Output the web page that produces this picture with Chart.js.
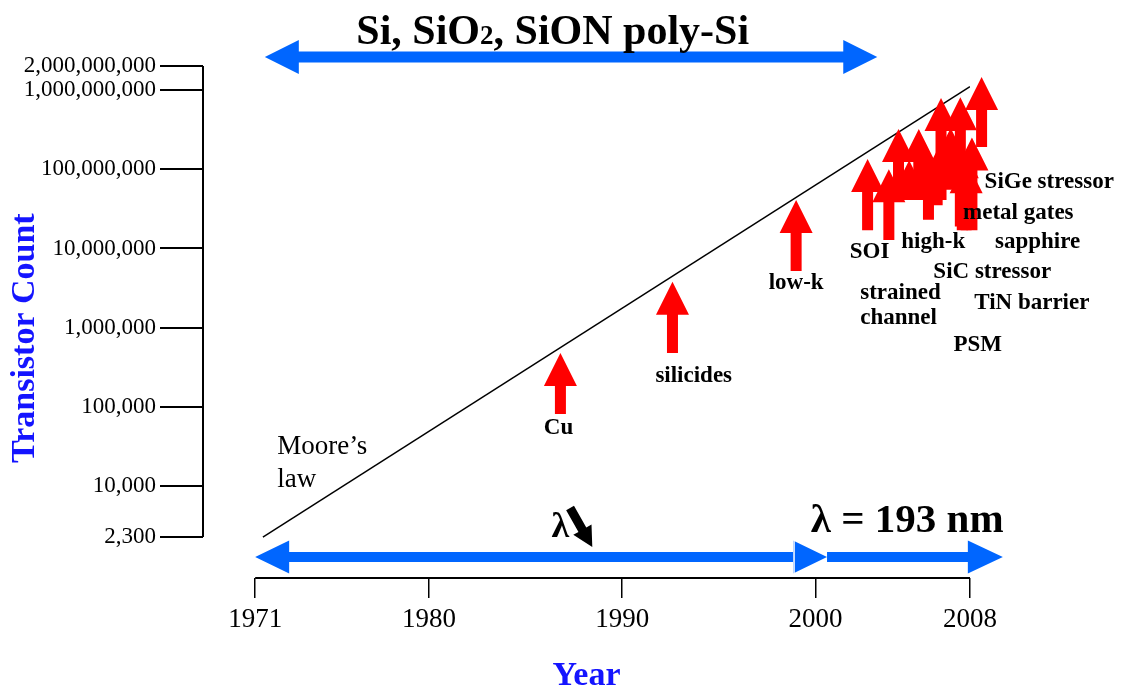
<!DOCTYPE html>
<html>
<head>
<meta charset="utf-8">
<script src="https://cdn.jsdelivr.net/npm/chart.js@4.4.1/dist/chart.umd.min.js"></script>
<style>
  html, body { margin: 0; padding: 0; background: #fff; }
  #wrap { width: 1122px; height: 691px; }
</style>
</head>
<body>
<div id="wrap"><canvas id="chart"></canvas></div>
<script>
// axis ticks
const countTicks = [2300, 10000, 100000, 1000000, 10000000, 100000000, 1000000000, 2000000000];
const yearTicks = [1971, 1980, 1990, 2000, 2008];

// Moore's law line
const mooreYears = [1971.4, 2008];
const mooreCounts = [2300, 1.1e9];

// red arrows (year, tip count, base count)
const arrowYears = [1986.8, 1992.6, 1999.0, 2002.7, 2003.8, 2004.3, 2004.85, 2005.35, 2005.85, 2006.3, 2006.5, 2007.0, 2007.5, 2007.6, 2007.8, 2008.1, 2008.6];
const arrowTips  = [4.8e5, 3.8e6, 4.1e7, 1.34e8, 1.0e8, 3.2e8, 1.3e8, 3.2e8, 1.6e8, 1.75e8, 7.9e8, 3.3e8, 8.1e8, 2.0e8, 1.3e8, 2.5e8, 1.45e9];
const arrowBases = [8.2e4, 4.8e5, 5.2e6, 1.7e7, 1.28e7, 4.1e7, 4.1e7, 4.1e7, 2.3e7, 3.5e7, 4.1e7, 5.5e7, 1.9e7, 1.7e7, 1.7e7, 1.7e7, 1.9e8];

// innovation labels
const innovations = ['Cu', 'silicides', 'low-k', 'SOI', 'strained', 'channel', 'high-k', 'SiC stressor', 'PSM', 'TiN barrier', 'sapphire', 'metal gates', 'SiGe stressor'];
const innovationYears = [1986.7, 1993.7, 1999.0, 2002.8, 2004.4, 2004.3, 2006.1, 2009.15, 2008.4, 2011.2, 2011.5, 2010.5, 2012.1];
const innovationCounts = [5.45e4, 2.47e5, 3.67e6, 9.0e6, 2.74e6, 1.33e6, 1.21e7, 5.05e6, 6.07e5, 2.05e6, 1.21e7, 2.8e7, 6.9e7];

// blue material / lithography bands
const materialsFrom = 1971.5, materialsTo = 2003.2, materialsCount = 2.6e9;
const lithoFrom = [1971.0, 2000.6];
const lithoTo = [2000.6, 2009.7];
const lithoCount = 1285;
const lambdaArrowYears = [1987.3, 1988.45];
const lambdaArrowCounts = [5330, 1720];

const SERIF = '"Liberation Serif", "Times New Roman", serif';
const BLUE_TEXT = '#1414ff';

const drawArrow = (ctx, x1, y1, x2, y2, head, half, shaft, both) => {
    const ang = Math.atan2(y2 - y1, x2 - x1);
    const len = Math.hypot(x2 - x1, y2 - y1);
    ctx.save();
    ctx.translate(x1, y1);
    ctx.rotate(ang);
    ctx.beginPath();
    if (both) {
        ctx.moveTo(0, 0);
        ctx.lineTo(head, -half);
        ctx.lineTo(head, -shaft);
    } else {
        ctx.moveTo(0, -shaft);
    }
    ctx.lineTo(len - head, -shaft);
    ctx.lineTo(len - head, -half);
    ctx.lineTo(len, 0);
    ctx.lineTo(len - head, half);
    ctx.lineTo(len - head, shaft);
    if (both) {
        ctx.lineTo(head, shaft);
        ctx.lineTo(head, half);
    } else {
        ctx.lineTo(0, shaft);
    }
    ctx.closePath();
    ctx.fill();
    ctx.restore();
};

const annotations = {
    id: 'annotations',
    afterDraw(chart) {
        const { ctx, scales: { x, y } } = chart;
        ctx.save();

        // axis lines
        ctx.strokeStyle = '#000';
        ctx.lineWidth = 2;
        ctx.beginPath();
        ctx.moveTo(x.left, y.getPixelForValue(countTicks[countTicks.length - 1]));
        ctx.lineTo(x.left, y.getPixelForValue(countTicks[0]));
        ctx.moveTo(x.getPixelForValue(yearTicks[0]), y.bottom);
        ctx.lineTo(x.getPixelForValue(yearTicks[yearTicks.length - 1]), y.bottom);
        ctx.stroke();

        // red arrows
        ctx.fillStyle = '#ff0000';
        arrowYears.forEach((yr, i) => {
            const px = x.getPixelForValue(yr);
            drawArrow(ctx, px, y.getPixelForValue(arrowBases[i]), px, y.getPixelForValue(arrowTips[i]), 33, 16.5, 5.5, false);
        });

        // blue bands
        ctx.fillStyle = '#0066ff';
        const by = y.getPixelForValue(materialsCount);
        drawArrow(ctx, x.getPixelForValue(materialsFrom), by, x.getPixelForValue(materialsTo), by, 34, 17, 5.5, true);
        const ly = y.getPixelForValue(lithoCount);
        drawArrow(ctx, x.getPixelForValue(lithoFrom[0]), ly, x.getPixelForValue(lithoTo[0]), ly, 34, 16.5, 5, true);
        drawArrow(ctx, x.getPixelForValue(lithoFrom[1]), ly, x.getPixelForValue(lithoTo[1]), ly, 35, 16.5, 5, false);
        ctx.strokeStyle = '#fff';
        ctx.lineWidth = 1.5;
        ctx.beginPath();
        ctx.moveTo(x.getPixelForValue(lithoTo[0]) - 33, ly - 18);
        ctx.lineTo(x.getPixelForValue(lithoTo[0]) - 33, ly + 18);
        ctx.stroke();

        // lambda arrow
        ctx.fillStyle = '#000';
        drawArrow(ctx, x.getPixelForValue(lambdaArrowYears[0]), y.getPixelForValue(lambdaArrowCounts[0]),
            x.getPixelForValue(lambdaArrowYears[1]), y.getPixelForValue(lambdaArrowCounts[1]), 20, 10.5, 4.5, false);

        // texts
        ctx.fillStyle = '#000';
        ctx.textAlign = 'center';
        ctx.textBaseline = 'middle';
        ctx.font = `bold 23px ${SERIF}`;
        innovations.forEach((txt, i) => {
            ctx.fillText(txt, x.getPixelForValue(innovationYears[i]), y.getPixelForValue(innovationCounts[i]));
        });

        // title with a small subscript
        const parts = ['Si, SiO', '2', ', SiON poly-Si'];
        const big = `bold 42px ${SERIF}`, small = `bold 27px ${SERIF}`;
        ctx.textAlign = 'left';
        ctx.textBaseline = 'alphabetic';
        ctx.font = big; const w0 = ctx.measureText(parts[0]).width, w2 = ctx.measureText(parts[2]).width;
        ctx.font = small; const w1 = ctx.measureText(parts[1]).width;
        let tx = x.getPixelForValue(1986.4) - (w0 + w1 + w2) / 2;
        const tBase = y.getPixelForValue(3.8e9);
        ctx.font = big; ctx.fillText(parts[0], tx, tBase); tx += w0;
        ctx.font = small; ctx.fillText(parts[1], tx, tBase); tx += w1;
        ctx.font = big; ctx.fillText(parts[2], tx, tBase);

        ctx.textAlign = 'center';
        ctx.textBaseline = 'middle';
        ctx.font = `bold 41px ${SERIF}`;
        ctx.fillText('\u03bb = 193 nm', x.getPixelForValue(2004.75), y.getPixelForValue(3600));
        ctx.font = `bold 36px ${SERIF}`;
        ctx.fillText('\u03bb', x.getPixelForValue(1986.8), y.getPixelForValue(3000));

        ctx.textAlign = 'left';
        ctx.font = `27px ${SERIF}`;
        ctx.fillText('Moore\u2019s', x.getPixelForValue(1972.14), y.getPixelForValue(3.14e4));
        ctx.fillText('law', x.getPixelForValue(1972.14), y.getPixelForValue(1.2e4));

        // y axis title
        ctx.save();
        ctx.translate(25, y.getPixelForValue(7.4e5));
        ctx.rotate(-Math.PI / 2);
        ctx.textAlign = 'center';
        ctx.fillStyle = BLUE_TEXT;
        ctx.font = `bold 34px ${SERIF}`;
        ctx.fillText('Transistor Count', 0, 0);
        ctx.restore();

        ctx.restore();
    }
};

new Chart(document.getElementById('chart'), {
    type: 'line',
    data: {
        datasets: [{
            label: "Moore's law",
            data: mooreYears.map((yr, i) => ({ x: yr, y: mooreCounts[i] })),
            borderColor: '#000',
            borderWidth: 1.5,
            pointRadius: 0,
            fill: false
        }]
    },
    options: {
        responsive: true,
        maintainAspectRatio: false,
        animation: false,
        layout: { padding: { top: 66, right: 152, left: 0, bottom: 0 } },
        plugins: { legend: { display: false }, tooltip: { enabled: false } },
        scales: {
            x: {
                type: 'linear',
                min: 1968.3,
                max: 2008,
                afterBuildTicks: s => { s.ticks = yearTicks.map(v => ({ value: v })); },
                afterFit: s => { s.height = 113; },
                grid: { drawOnChartArea: false, drawTicks: true, tickLength: 20, color: '#000', lineWidth: 1.5 },
                border: { display: false },
                ticks: { color: '#000', font: { family: SERIF, size: 27 }, padding: 6, maxRotation: 0, autoSkip: false, callback: v => String(v) },
                title: { display: true, text: 'Year', color: BLUE_TEXT, font: { family: SERIF, size: 34, weight: 'bold' }, padding: { top: 0, bottom: -6 } }
            },
            y: {
                type: 'logarithmic',
                min: 700,
                max: 2e9,
                afterBuildTicks: s => { s.ticks = countTicks.map(v => ({ value: v })); },
                afterFit: s => { s.width = 203; },
                grid: { drawOnChartArea: false, drawTicks: true, tickLength: 43, color: '#000', lineWidth: 2 },
                border: { display: false },
                ticks: {
                    color: '#000',
                    font: { family: SERIF, size: 23 },
                    padding: 4,
                    autoSkip: false,
                    callback: v => Number(v).toLocaleString('en-US')
                },
                title: { display: false }
            }
        }
    },
    plugins: [annotations]
});
</script>
</body>
</html>
